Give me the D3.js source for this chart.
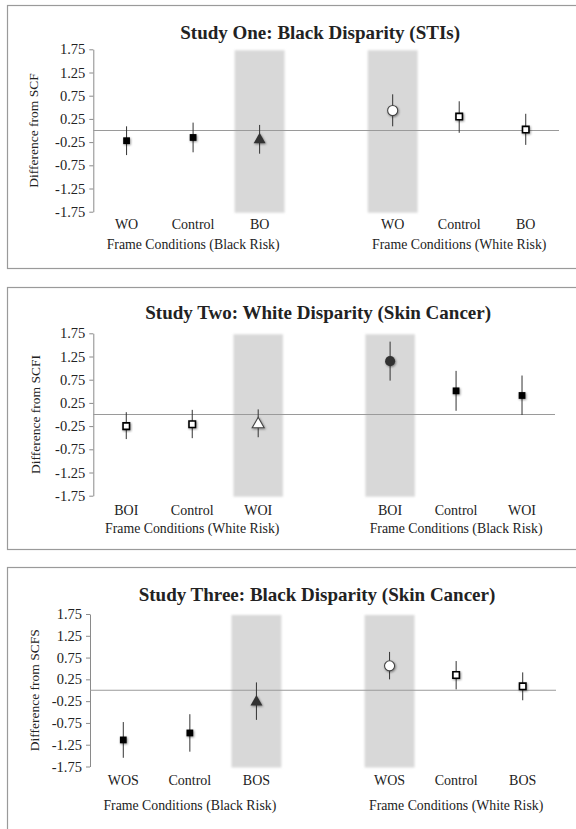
<!DOCTYPE html>
<html><head><meta charset="utf-8">
<script src="https://cdn.jsdelivr.net/npm/d3@7"></script>
<style>
html,body{margin:0;padding:0;background:#fff;}
svg{display:block;}
text{font-family:"Liberation Serif","Times New Roman",serif;fill:#222;}
</style></head>
<body>
<svg id="chart" width="576" height="829"></svg>
<script>
// ---------- data ----------
const titles = ["Study One: Black Disparity (STIs)", "Study Two: White Disparity (Skin Cancer)", "Study Three: Black Disparity (Skin Cancer)"];
const yAxisLabels = ["Difference from SCF", "Difference from SCFI", "Difference from SCFS"];
const yTicks = [1.75, 1.25, 0.75, 0.25, -0.25, -0.75, -1.25, -1.75];
const slots = [0, 1, 2, 4, 5, 6];           // category slots (slot 3 is the gap)
const shadedSlots = [2, 4];

const catLabels1 = ["WO", "Control", "BO", "WO", "Control", "BO"];
const groupLabels1 = ["Frame Conditions (Black Risk)", "Frame Conditions (White Risk)"];
const means1 = [-0.22, -0.15, -0.20, 0.43, 0.30, 0.02];
const lower1 = [-0.53, -0.47, -0.50, 0.09, -0.05, -0.31];
const upper1 = [0.09, 0.17, 0.12, 0.78, 0.63, 0.36];
const markers1 = ["squareFilled", "squareFilled", "triangleFilled", "circleOpen", "squareOpen", "squareOpen"];

const catLabels2 = ["BOI", "Control", "WOI", "BOI", "Control", "WOI"];
const groupLabels2 = ["Frame Conditions (White Risk)", "Frame Conditions (Black Risk)"];
const means2 = [-0.25, -0.21, -0.21, 1.15, 0.51, 0.41];
const lower2 = [-0.53, -0.51, -0.49, 0.73, 0.08, -0.01];
const upper2 = [0.05, 0.10, 0.11, 1.57, 0.94, 0.84];
const markers2 = ["squareOpen", "squareOpen", "triangleOpen", "circleFilled", "squareFilled", "squareFilled"];

const catLabels3 = ["WOS", "Control", "BOS", "WOS", "Control", "BOS"];
const groupLabels3 = ["Frame Conditions (Black Risk)", "Frame Conditions (White Risk)"];
const means3 = [-1.14, -0.98, -0.27, 0.56, 0.35, 0.09];
const lower3 = [-1.55, -1.41, -0.68, 0.25, 0.02, -0.23];
const upper3 = [-0.73, -0.55, 0.18, 0.88, 0.67, 0.41];
const markers3 = ["squareFilled", "squareFilled", "triangleFilled", "circleOpen", "squareOpen", "squareOpen"];

// ---------- layout ----------
const FONT = "Liberation Serif, Times New Roman, serif";
const layouts = [
  {boxTop: 5, boxBottom: 268, x0: 93.3, x1: 559, yTop: 49.3, yBot: 211.7, titleY: 32, catY: 224.5, groupY: 244.5, ylabX: 33},
  {boxTop: 287, boxBottom: 549, x0: 93.3, x1: 555, yTop: 333.3, yBot: 495.7, titleY: 312.5, catY: 510, groupY: 528.5, ylabX: 35},
  {boxTop: 567, boxBottom: 900, x0: 90, x1: 556, yTop: 614, yBot: 766.5, titleY: 594.5, catY: 780, groupY: 805.5, ylabX: 34}
];
const panelData = [
  {title: titles[0], ylab: yAxisLabels[0], cats: catLabels1, groups: groupLabels1, means: means1, lower: lower1, upper: upper1, markers: markers1},
  {title: titles[1], ylab: yAxisLabels[1], cats: catLabels2, groups: groupLabels2, means: means2, lower: lower2, upper: upper2, markers: markers2},
  {title: titles[2], ylab: yAxisLabels[2], cats: catLabels3, groups: groupLabels3, means: means3, lower: lower3, upper: upper3, markers: markers3}
];

const svg = d3.select("#chart");
const defs = svg.append("defs");
const sh = defs.append("filter").attr("id", "shadow").attr("x", "-50%").attr("y", "-50%").attr("width", "200%").attr("height", "200%");
sh.append("feDropShadow").attr("dx", 0.8).attr("dy", 1).attr("stdDeviation", 0.9).attr("flood-color", "#000").attr("flood-opacity", 0.45);
const bl = defs.append("filter").attr("id", "blur").attr("x", "-20%").attr("y", "-5%").attr("width", "140%").attr("height", "110%");
bl.append("feGaussianBlur").attr("stdDeviation", 1.2);

layouts.forEach((L, pi) => {
  const P = panelData[pi];
  const g = svg.append("g");
  // panel border
  g.append("rect").attr("x", 7.5).attr("y", L.boxTop + 0.5).attr("width", 640).attr("height", L.boxBottom - L.boxTop)
    .attr("fill", "none").attr("stroke", "#9a9a9a").attr("stroke-width", 1.2);

  const x = d3.scaleBand().domain(d3.range(7)).range([L.x0, L.x1]).paddingInner(0).paddingOuter(0);
  const y = d3.scaleLinear().domain([-1.75, 1.75]).range([L.yBot, L.yTop]);

  // shaded bands
  g.selectAll("rect.band").data(shadedSlots).join("rect").attr("class", "band")
    .attr("x", d => x(d) + x.bandwidth() * 0.125).attr("width", x.bandwidth() * 0.75)
    .attr("y", y(1.75) + 1).attr("height", y(-1.75) - y(1.75))
    .attr("fill", "#d8d8d8").attr("filter", "url(#blur)");

  // y axis
  const ax = g.append("g").attr("transform", `translate(${L.x0},0)`)
    .call(d3.axisLeft(y).tickValues(yTicks).tickFormat(d => d.toFixed(2)).tickSizeInner(4).tickSizeOuter(0).tickPadding(4));
  ax.select(".domain").attr("stroke", "#8a8a8a");
  ax.selectAll(".tick line").attr("stroke", "#8a8a8a");
  ax.selectAll(".tick text").attr("font-family", FONT).attr("font-size", 14.5).attr("fill", "#222");

  // zero line
  g.append("line").attr("x1", L.x0).attr("x2", L.x1).attr("y1", y(0)).attr("y2", y(0))
    .attr("stroke", "#9a9a9a").attr("stroke-width", 1);

  // error bars
  g.selectAll("line.err").data(slots).join("line").attr("class", "err")
    .attr("x1", (d, i) => x(d) + x.bandwidth() / 2).attr("x2", (d, i) => x(d) + x.bandwidth() / 2)
    .attr("y1", (d, i) => y(P.upper[i])).attr("y2", (d, i) => y(P.lower[i]))
    .attr("stroke", "#333").attr("stroke-width", 1);

  // markers
  const symType = m => m.startsWith("square") ? d3.symbolSquare : m.startsWith("triangle") ? d3.symbolTriangle : d3.symbolCircle;
  const symSize = m => m.startsWith("square") ? (m.endsWith("Open") ? 42 : 46) : m.startsWith("triangle") ? 62 : 80;
  g.selectAll("path.mk").data(slots).join("path").attr("class", "mk")
    .attr("transform", (d, i) => `translate(${x(d) + x.bandwidth() / 2},${y(P.means[i])})`)
    .attr("d", (d, i) => d3.symbol().type(symType(P.markers[i])).size(symSize(P.markers[i]))())
    .attr("fill", (d, i) => P.markers[i].endsWith("Open") ? "#fff" : (P.markers[i].startsWith("square") ? "#000" : "#333"))
    .attr("stroke", (d, i) => P.markers[i].endsWith("Open") ? (P.markers[i].startsWith("square") ? "#000" : "#444") : "none")
    .attr("stroke-width", (d, i) => P.markers[i].startsWith("square") ? 1.6 : 1.1)
    .attr("filter", "url(#shadow)");

  // category labels
  g.selectAll("text.cat").data(slots).join("text").attr("class", "cat")
    .attr("x", d => x(d) + x.bandwidth() / 2).attr("y", L.catY).attr("dy", "0.35em")
    .attr("text-anchor", "middle").attr("font-family", FONT).attr("font-size", 14).text((d, i) => P.cats[i]);

  // group labels (centred under the middle category of each group)
  g.selectAll("text.grp").data([1, 5]).join("text").attr("class", "grp")
    .attr("x", d => x(d) + x.bandwidth() / 2).attr("y", L.groupY).attr("dy", "0.35em")
    .attr("text-anchor", "middle").attr("font-family", FONT).attr("font-size", 13.8).text((d, i) => P.groups[i]);

  // title
  g.append("text").attr("x", (L.x0 + L.x1) / 2 - 6).attr("y", L.titleY).attr("dy", "0.35em")
    .attr("text-anchor", "middle").attr("font-family", FONT).attr("font-size", 19).attr("font-weight", "bold").attr("fill", "#111")
    .text(P.title);

  // y axis title
  g.append("text").attr("transform", `translate(${L.ylabX},${(L.yTop + L.yBot) / 2}) rotate(-90)`)
    .attr("dy", "0.35em").attr("text-anchor", "middle").attr("font-family", FONT).attr("font-size", 13.5).text(P.ylab);
});
</script>
</body></html>
